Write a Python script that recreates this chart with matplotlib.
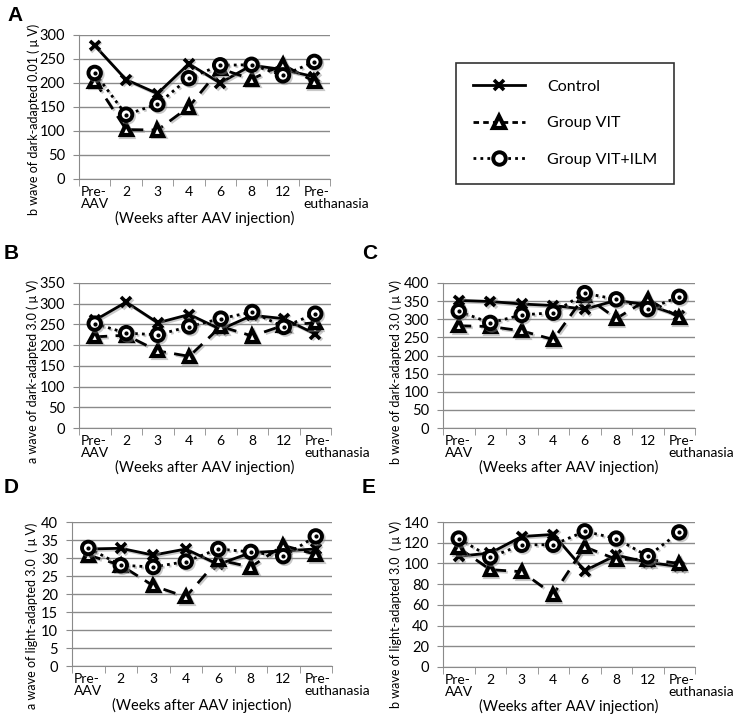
import numpy as np
import matplotlib
matplotlib.use('Agg')
import matplotlib.pyplot as plt
import matplotlib.patheffects as pe
from matplotlib.lines import Line2D
from matplotlib.transforms import ScaledTranslation

plt.rcParams['font.family'] = ['Lato', 'DejaVu Sans']

categories = ['Pre-\nAAV', '2', '3', '4', '6', '8', '12', 'Pre-\neuthanasia']
groups = ['Control', 'Group VIT', 'Group VIT+ILM']

# panel A: b wave dark-adapted 0.01
a_ctrl = [278, 207, 178, 240, 200, 237, 228, 213]
a_vit = [204, 103, 102, 150, 230, 208, 238, 203]
a_ilm = [221, 134, 156, 210, 237, 238, 216, 244]
# panel B: a wave dark-adapted 3.0
b_ctrl = [260, 304, 254, 274, 238, 272, 264, 227]
b_vit = [220, 224, 186, 173, 245, 222, 248, 254]
b_ilm = [252, 229, 225, 245, 264, 280, 244, 276]
# panel C: b wave dark-adapted 3.0
c_ctrl = [352, 349, 342, 338, 328, 352, 340, 310]
c_vit = [282, 280, 268, 244, 365, 302, 355, 305]
c_ilm = [322, 290, 312, 318, 372, 355, 328, 362]
# panel D: a wave light-adapted 3.0
d_ctrl = [32.5, 32.7, 30.8, 32.5, 28.2, 31.5, 32.0, 32.5]
d_vit = [30.8, 28.0, 22.3, 19.2, 29.5, 27.5, 33.5, 31.0]
d_ilm = [32.8, 28.0, 27.5, 29.0, 32.5, 31.7, 30.5, 36.0]
# panel E: b wave light-adapted 3.0
e_ctrl = [107, 110, 126, 128, 93, 108, 101, 97]
e_vit = [115, 94, 92, 70, 116, 104, 104, 100]
e_ilm = [124, 106, 118, 118, 131, 124, 107, 130]

W, H = 734, 717
fig = plt.figure(figsize=(W / 100, H / 100), dpi=100)

def px(l, r, t, b):
    return [l / W, 1 - b / H, (r - l) / W, (b - t) / H]

panels = [
    ('A', px(79, 330, 35, 179), a_ctrl, a_vit, a_ilm, 300, 50,
     'b wave of dark-adapted 0.01 ( \u03bc V)', (-0.155, 0.417)),
    ('B', px(79, 331, 283, 428), b_ctrl, b_vit, b_ilm, 350, 50,
     'a wave of dark-adapted 3.0 ( \u03bc V)', (-0.159, 0.39)),
    ('C', px(443, 695, 283, 428), c_ctrl, c_vit, c_ilm, 400, 50,
     'b wave of dark-adapted 3.0 ( \u03bc V)', (-0.163, 0.386)),
    ('D', px(72, 332, 522, 666), d_ctrl, d_vit, d_ilm, 40, 5,
     'a wave of light-adapted 3.0  ( \u03bc V)', (-0.131, 0.35)),
    ('E', px(443, 695, 522, 667), e_ctrl, e_vit, e_ilm, 140, 20,
     'b wave of light-adapted 3.0  ( \u03bc V)', (-0.163, 0.36)),
]
letter_pos = {'A': (7, 6), 'B': (4, 244), 'C': (362, 244), 'D': (4, 478), 'E': (362, 478)}

grid_c = '#8a8a8a'
x = np.arange(len(categories))
shadow = [pe.SimpleLineShadow(offset=(1.2, -1.2), shadow_color='#888888', alpha=0.45), pe.Normal()]

for letter, rect, ctrl, vit, ilm, top, step, ylab, lab_xy in panels:
    ax = fig.add_axes(rect)
    ax.set_xlim(-0.5, len(categories) - 0.5)
    ax.set_ylim(0, top)
    ax.set_yticks(np.arange(0, top + step / 2, step))
    ax.yaxis.grid(True, color=grid_c, lw=1.0)
    ax.set_axisbelow(True)
    for s in ['top', 'right']:
        ax.spines[s].set_visible(False)
    ax.spines['left'].set_color(grid_c)
    ax.spines['bottom'].set_color(grid_c)
    ax.tick_params(axis='y', colors=grid_c, length=4, pad=6, labelcolor='black', labelsize=10.5)
    ax.set_xticks(x)
    ax.set_xticklabels(categories, fontsize=10, multialignment='left', linespacing=1.0)
    ax.set_xticks(np.arange(-0.5, len(categories)), minor=True)
    ax.tick_params(axis='x', which='major', length=0, pad=5)
    ax.tick_params(axis='x', which='minor', length=5, colors=grid_c)
    lbls = ax.get_xticklabels()
    lbls[-1].set_horizontalalignment('left')
    lbls[-1].set_transform(lbls[-1].get_transform() + ScaledTranslation(-11 / 100, 0, fig.dpi_scale_trans))
    ax.set_xlabel('(Weeks after AAV injection)', fontsize=10.5, labelpad=1)
    ax.set_ylabel(ylab, fontsize=9)
    ax.yaxis.set_label_coords(*lab_xy)

    ax.plot(x, ctrl, color='black', lw=2.0, ls='-', marker='x', ms=7, mew=2.6, zorder=3,
            path_effects=shadow)
    ax.plot(x, vit, color='black', lw=2.0, ls=(0, (4.5, 3)), marker='^', ms=8, mew=3,
            mfc='white', mec='black', zorder=3, path_effects=shadow)
    ax.plot(x, ilm, color='black', lw=2.0, ls=(0, (1, 1.5)), marker='o', ms=9, mew=2.8,
            mfc='white', mec='black', zorder=4, path_effects=shadow)
    ax.plot(x, ilm, ls='none', marker='o', ms=2, mfc='black', mec='black', zorder=5)

    lx, ly = letter_pos[letter]
    fig.text(lx / W, 1 - ly / H, letter, fontsize=15, fontweight='bold',
             family='Liberation Sans', va='top', ha='left')

handles = [
    Line2D([], [], color='black', lw=2, ls='-', marker='x', ms=7, mew=2.6),
    Line2D([], [], color='black', lw=2, ls=(0, (2, 1.5)), marker='^', ms=8, mew=3, mfc='white'),
    Line2D([], [], color='black', lw=2, ls=(0, (1, 1.5)), marker='o', ms=9, mew=2.8, mfc='white'),
]
leg = fig.legend(handles, groups, loc='upper left', bbox_to_anchor=(456 / W, 1 - 63 / H),
                 frameon=True, fancybox=False, edgecolor='black', fontsize=11.5,
                 handlelength=3.3, labelspacing=1.4, borderpad=1.05, handletextpad=1.35,
                 borderaxespad=0)
leg.get_frame().set_linewidth(1.2)

fig.savefig('out.png', dpi=100)
